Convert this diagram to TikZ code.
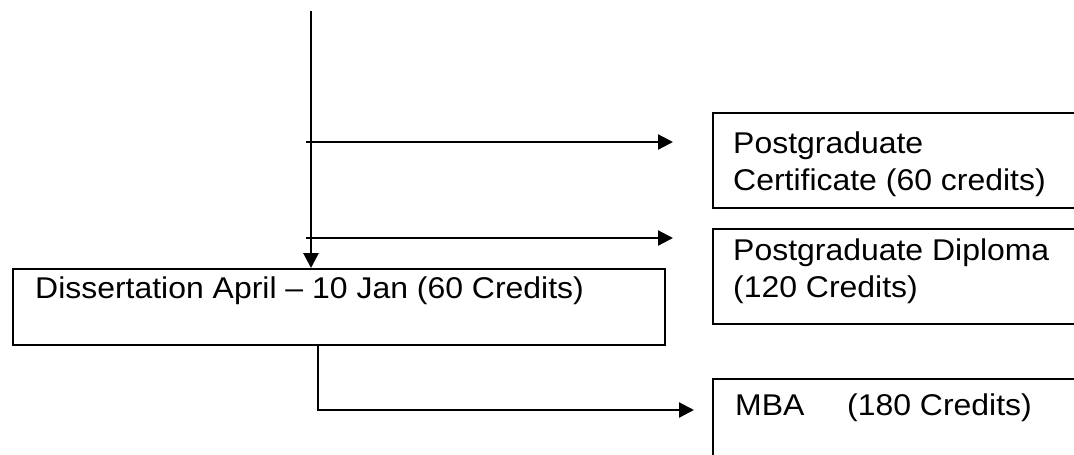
\documentclass[tikz,border=0pt]{standalone}
\usepackage{fontspec}
\usepackage{graphicx}
\setmainfont{Liberation Sans}
\usetikzlibrary{arrows.meta}
\newcommand{\widetext}[1]{\scalebox{1.065}[1]{#1}}
\begin{document}
\begin{tikzpicture}[x=1pt,y=-1pt,
  box/.style={draw,line width=2pt,rectangle,inner sep=0pt,anchor=north west},
  lbl/.style={anchor=base west,inner sep=0pt,font=\fontsize{30}{37}\selectfont},
  flow/.style={line width=2.2pt,-{Triangle[length=15pt,width=15pt]}}]
\clip (0,0) rectangle (1074,455);
\fill[white] (0,0) rectangle (1074,455);

% boxes
\node[box,minimum width=652pt,minimum height=76pt] (diss) at (12,268) {};
\node[box,minimum width=400pt,minimum height=95pt] (cert) at (712,112) {};
\node[box,minimum width=400pt,minimum height=95pt] (dipl) at (712,228) {};
\node[box,minimum width=400pt,minimum height=110pt] (mba) at (712,378) {};

% labels
\node[lbl] (dissT) at (35,298) {\widetext{Dissertation April – 10 Jan (60 Credits)}};
\node[lbl] (certA) at (733,153) {\widetext{Postgraduate}};
\node[lbl] (certB) at (733,190) {\widetext{Certificate (60 credits)}};
\node[lbl] (diplA) at (733,260) {\widetext{Postgraduate Diploma}};
\node[lbl] (diplB) at (733,297) {\widetext{(120 Credits)}};
\node[lbl] (mbaA) at (735,415) {\widetext{MBA}};
\node[lbl] (mbaB) at (847,415) {\widetext{(180 Credits)}};

% connector points
\coordinate (top) at (311,11);
\coordinate (c1s) at (306,142);
\coordinate (c1e) at (673,142);
\coordinate (c2s) at (306,238);
\coordinate (c2e) at (673,238);
\coordinate (dout) at (318,344);
\coordinate (mbaE) at (694,410);

% connectors
\draw[flow,line width=2.8pt] (top) -- (top |- diss.north);
\draw[flow] (c1s) -- (c1e);
\draw[flow] (c2s) -- (c2e);
\draw[flow] (dout) |- (mbaE);
\end{tikzpicture}
\end{document}
